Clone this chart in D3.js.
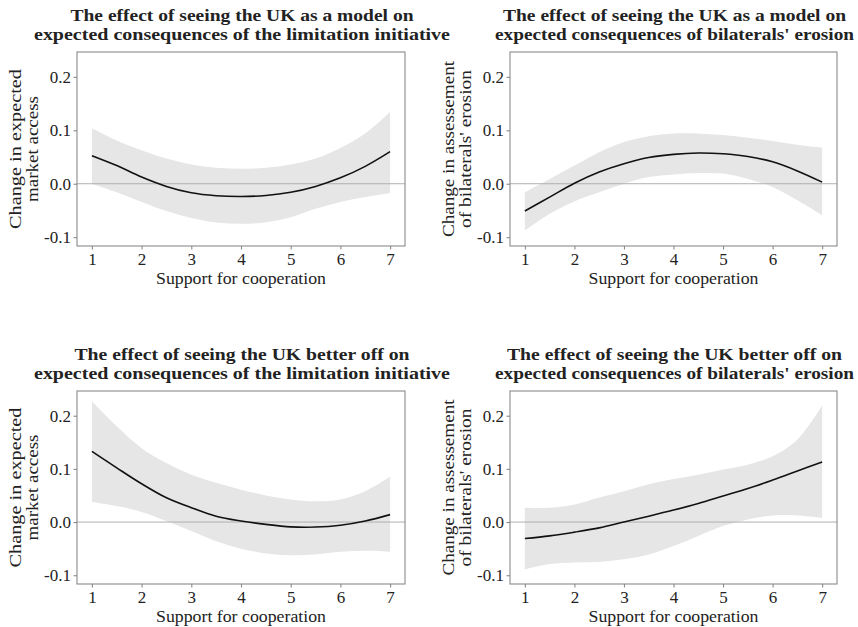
<!DOCTYPE html>
<html>
<head>
<meta charset="utf-8">
<script src="https://cdn.jsdelivr.net/npm/d3@7"></script>
<style>
  html, body { margin: 0; padding: 0; background: #fff; }
  svg { display: block; }
  text { font-family: "Liberation Serif", "DejaVu Serif", serif; fill: #222; }
</style>
</head>
<body>
<svg id="chart" width="858" height="627"></svg>
<script>
// ---- data ----
const supportLevels = [1, 1.5, 2, 2.5, 3, 3.5, 4, 4.5, 5, 5.5, 6, 6.5, 7];
const xTicks = [1, 2, 3, 4, 5, 6, 7];
const yTicks = [-0.1, 0.0, 0.1, 0.2];
const yTickLabels = ["-0.1", "0.0", "0.1", "0.2"];
const xAxisTitle = "Support for cooperation";

// Panel A: UK as a model -> limitation initiative
const modelLimitFit   = [0.0525, 0.034, 0.0125, -0.005, -0.017, -0.0225, -0.024, -0.022, -0.016, -0.005, 0.011, 0.0325, 0.060];
const modelLimitUpper = [0.104, 0.081, 0.0625, 0.047, 0.036, 0.030, 0.028, 0.030, 0.036, 0.047, 0.067, 0.094, 0.134];
const modelLimitLower = [0.000, -0.016, -0.034, -0.051, -0.064, -0.0725, -0.075, -0.072, -0.0625, -0.047, -0.034, -0.025, -0.0175];

// Panel B: UK as a model -> bilaterals' erosion
const modelBilatFit   = [-0.051, -0.025, 0.001, 0.022, 0.0375, 0.049, 0.055, 0.0575, 0.056, 0.051, 0.041, 0.024, 0.003];
const modelBilatUpper = [-0.016, 0.009, 0.034, 0.059, 0.078, 0.089, 0.094, 0.094, 0.091, 0.086, 0.080, 0.073, 0.0675];
const modelBilatLower = [-0.0875, -0.056, -0.033, -0.016, 0.000, 0.0125, 0.0175, 0.020, 0.019, 0.009, -0.006, -0.031, -0.059];

// Panel C: UK better off -> limitation initiative
const betterLimitFit   = [0.133, 0.102, 0.072, 0.0456, 0.027, 0.011, 0.002, -0.0044, -0.009, -0.0094, -0.006, 0.002, 0.014];
const betterLimitUpper = [0.227, 0.180, 0.139, 0.111, 0.089, 0.074, 0.061, 0.050, 0.0425, 0.039, 0.0425, 0.058, 0.085];
const betterLimitLower = [0.0375, 0.030, 0.019, 0.002, -0.017, -0.036, -0.050, -0.059, -0.0625, -0.061, -0.056, -0.054, -0.056];

// Panel D: UK better off -> bilaterals' erosion
const betterBilatFit   = [-0.031, -0.026, -0.019, -0.011, 0.000, 0.011, 0.0225, 0.035, 0.049, 0.063, 0.079, 0.096, 0.113];
const betterBilatUpper = [0.027, 0.027, 0.033, 0.046, 0.058, 0.071, 0.081, 0.089, 0.099, 0.108, 0.124, 0.155, 0.219];
const betterBilatLower = [-0.089, -0.079, -0.076, -0.075, -0.070, -0.061, -0.045, -0.026, -0.0075, 0.005, 0.0125, 0.0125, 0.008];

const panelTitles = [
  ["The effect of seeing the UK as a model on", "expected consequences of the limitation initiative"],
  ["The effect of seeing the UK as a model on", "expected consequences of bilaterals' erosion"],
  ["The effect of seeing the UK better off on", "expected consequences of the limitation initiative"],
  ["The effect of seeing the UK better off on", "expected consequences of bilaterals' erosion"]
];
const yAxisTitles = [
  ["Change in expected", "market access"],
  ["Change in assessement", "of bilaterals' erosion"],
  ["Change in expected", "market access"],
  ["Change in assessement", "of bilaterals' erosion"]
];

// ---- layout / style ----
const panels = [
  { x0: 77,  x1: 405, y0: 52,  y1: 246, fit: modelLimitFit,  up: modelLimitUpper,  lo: modelLimitLower },
  { x0: 510, x1: 837, y0: 52,  y1: 246, fit: modelBilatFit,  up: modelBilatUpper,  lo: modelBilatLower },
  { x0: 77,  x1: 405, y0: 391, y1: 584, fit: betterLimitFit, up: betterLimitUpper, lo: betterLimitLower },
  { x0: 510, x1: 837, y0: 391, y1: 584, fit: betterBilatFit, up: betterBilatUpper, lo: betterBilatLower }
];
const textWidths = {
  "The effect of seeing the UK as a model on": 343,
  "The effect of seeing the UK better off on": 335,
  "expected consequences of the limitation initiative": 416,
  "expected consequences of bilaterals' erosion": 359,
  "Support for cooperation": 170,
  "Change in expected": 160,
  "market access": 106,
  "Change in assessement": 176,
  "of bilaterals' erosion": 158
};

const svg = d3.select("#chart");

function fitText(sel) {
  sel.each(function() {
    const t = d3.select(this).text();
    if (textWidths[t]) {
      d3.select(this).attr("textLength", textWidths[t]).attr("lengthAdjust", "spacingAndGlyphs");
    }
  });
}

const curve = d3.curveCatmullRom.alpha(0.5);

panels.forEach((p, i) => {
  const x = d3.scaleLinear().domain([0.7, 7.3]).range([p.x0, p.x1]);
  const y = d3.scaleLinear().domain([-0.1165, 0.2465]).range([p.y1, p.y0]);
  const g = svg.append("g");

  const rows = supportLevels.map((s, k) => ({ s, fit: p.fit[k], up: p.up[k], lo: p.lo[k] }));

  // ribbon
  g.append("path")
    .datum(rows)
    .attr("fill", "#e6e6e6")
    .attr("d", d3.area().curve(curve)
      .x(d => x(d.s)).y0(d => y(d.lo)).y1(d => y(d.up)));

  // zero line
  g.append("line")
    .attr("x1", p.x0).attr("x2", p.x1)
    .attr("y1", y(0)).attr("y2", y(0))
    .attr("stroke", "#b0b0b0").attr("stroke-width", 1);

  // fit line
  g.append("path")
    .datum(rows)
    .attr("fill", "none")
    .attr("stroke", "#111")
    .attr("stroke-width", 1.6)
    .attr("d", d3.line().curve(curve).x(d => x(d.s)).y(d => y(d.fit)));

  // panel border
  g.append("rect")
    .attr("x", p.x0).attr("y", p.y0)
    .attr("width", p.x1 - p.x0).attr("height", p.y1 - p.y0)
    .attr("fill", "none").attr("stroke", "#8a8a8a").attr("stroke-width", 1.1);

  // x axis
  const xa = g.append("g").attr("transform", `translate(0,${p.y1})`)
    .call(d3.axisBottom(x).tickValues(xTicks).tickFormat(d3.format("d")).tickSizeInner(3.5).tickSizeOuter(0).tickPadding(3));
  xa.select(".domain").remove();
  xa.selectAll(".tick line").attr("stroke", "#8a8a8a").attr("stroke-width", 1.1);
  xa.selectAll(".tick text").attr("font-size", 17).attr("fill", "#222")
    .attr("font-family", "Liberation Serif, serif");

  // y axis
  const ya = g.append("g").attr("transform", `translate(${p.x0},0)`)
    .call(d3.axisLeft(y).tickValues(yTicks).tickFormat((d, k) => yTickLabels[k]).tickSizeInner(3.5).tickSizeOuter(0).tickPadding(2.5));
  ya.select(".domain").remove();
  ya.selectAll(".tick line").attr("stroke", "#8a8a8a").attr("stroke-width", 1.1);
  ya.selectAll(".tick text").attr("font-size", 17).attr("fill", "#222")
    .attr("font-family", "Liberation Serif, serif");

  // x axis title
  g.append("text")
    .attr("x", (p.x0 + p.x1) / 2).attr("y", p.y1 + 38)
    .attr("text-anchor", "middle").attr("font-size", 16.5)
    .text(xAxisTitle).call(fitText);

  // y axis title (two lines, rotated)
  const cy = (p.y0 + p.y1) / 2;
  [[yAxisTitles[i][0], p.x0 - 56], [yAxisTitles[i][1], p.x0 - 39]].forEach(([t, bx]) => {
    g.append("text")
      .attr("transform", `translate(${bx},${cy}) rotate(-90)`)
      .attr("text-anchor", "middle").attr("font-size", 16.5)
      .text(t).call(fitText);
  });

  // title
  const tx = (p.x0 + p.x1) / 2 + 1;
  [[panelTitles[i][0], p.y0 - 31], [panelTitles[i][1], p.y0 - 12.5]].forEach(([t, by]) => {
    g.append("text")
      .attr("x", tx).attr("y", by)
      .attr("text-anchor", "middle").attr("font-size", 16.5).attr("font-weight", "bold")
      .text(t).call(fitText);
  });
});
</script>
</body>
</html>
